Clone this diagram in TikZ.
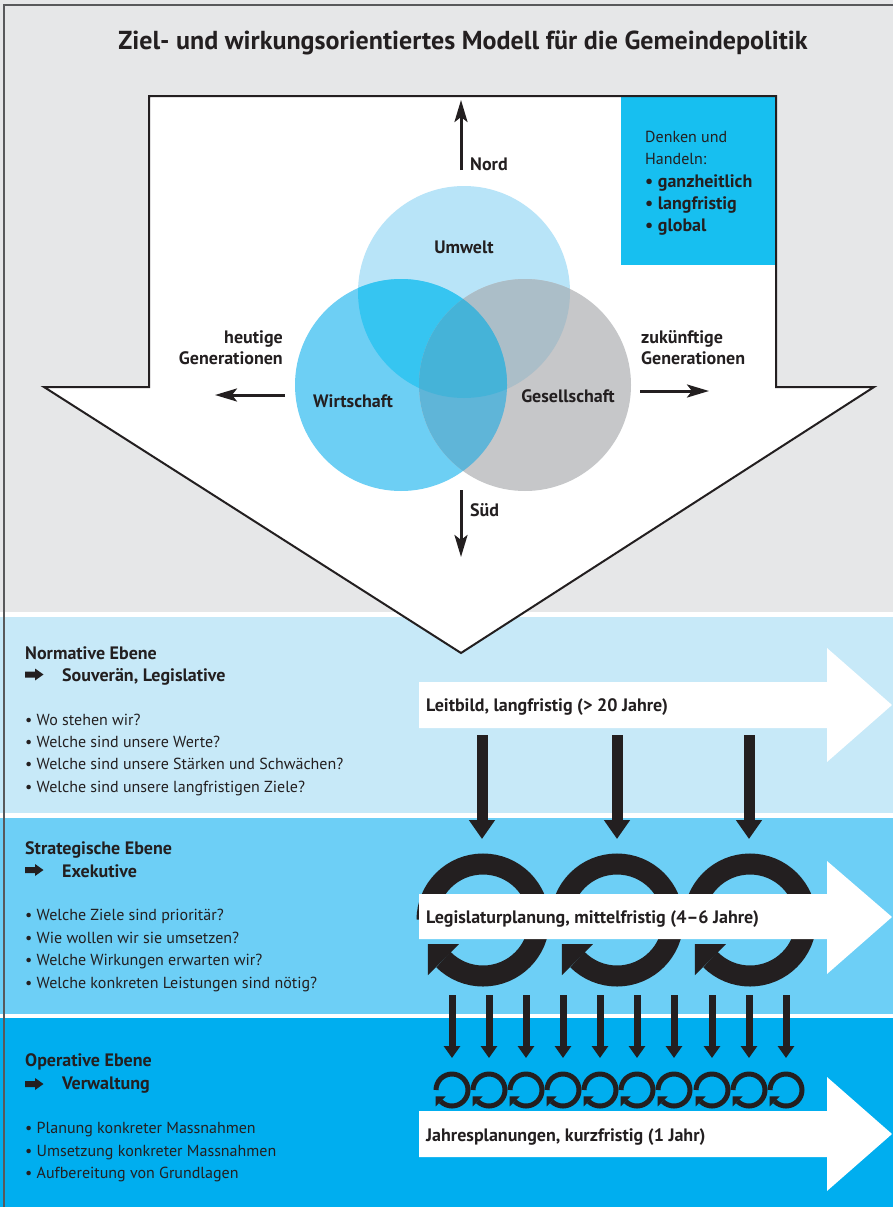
\documentclass[tikz,border=0pt]{standalone}
\usepackage{fontspec}
\setmainfont{PT Sans}
\usetikzlibrary{arrows.meta,calc}
\definecolor{txt}{HTML}{231F20}
\definecolor{bggray}{HTML}{E6E7E8}
\definecolor{framec}{HTML}{58595B}
\definecolor{bandA}{HTML}{C7E9F8}
\definecolor{bandB}{HTML}{6DCFF6}
\definecolor{bandC}{HTML}{00AEEF}
\definecolor{boxblue}{HTML}{17BFF0}
\definecolor{cU}{HTML}{B8E4F8}
\definecolor{cW}{HTML}{6DCFF4}
\definecolor{cG}{HTML}{C6C7C9}
\definecolor{cUW}{HTML}{36C5F1}
\definecolor{cUG}{HTML}{ABBEC8}
\definecolor{cWG}{HTML}{5FB5D8}
\definecolor{cUWG}{HTML}{45B3D8}
\begin{document}
\begin{tikzpicture}[x=1pt,y=-1pt,
  body/.style={anchor=base west, inner sep=0pt, text=txt, font=\fontsize{16}{19}\selectfont},
  bodyr/.style={anchor=base east, inner sep=0pt, text=txt, font=\bfseries\fontsize{18}{21}\selectfont},
  lbl/.style={anchor=base west, inner sep=0pt, text=txt, font=\bfseries\fontsize{18}{21}\selectfont},
  clbl/.style={anchor=base, inner sep=0pt, text=txt, font=\bfseries\fontsize{18}{21}\selectfont},
  compass/.style={draw=txt, line width=3pt, -{Stealth[length=22pt,width=13pt,inset=5pt]}},
  bigdown/.style={draw=txt, line width=11pt, -{Triangle[length=19pt,width=25pt]}},
  smalldown/.style={draw=txt, line width=7pt, -{Triangle[length=12pt,width=16pt]}},
  symarrow/.style={fill=txt},
  cyc/.pic={
    \draw[txt, line width=\pgfkeysvalueof{/tikz/cycw}] (180:\pgfkeysvalueof{/tikz/cycr}) arc[start angle=180, end angle=495, radius=\pgfkeysvalueof{/tikz/cycr}];
    \fill[txt] ($(135:\pgfkeysvalueof{/tikz/cycr})+(135:\pgfkeysvalueof{/tikz/cych})$) -- ($(135:\pgfkeysvalueof{/tikz/cycr})+(225:\pgfkeysvalueof{/tikz/cych})$) -- ($(135:\pgfkeysvalueof{/tikz/cycr})+(315:\pgfkeysvalueof{/tikz/cych})$) -- cycle;
  },
  cycw/.initial=21pt, cycr/.initial=56, cych/.initial=22
]
\useasboundingbox (0,0) rectangle (893,1207);
% backgrounds
\fill[bggray] (0,0) rectangle (893,1207);
\fill[white] (0,612) rectangle (893,1207);
\fill[bandA] (0,617) rectangle (893,813);
\fill[bandB] (0,818) rectangle (893,1014);
\fill[bandC] (0,1018) rectangle (893,1207);

% title
\node[anchor=base, inner sep=0pt, text=txt, font=\bfseries\fontsize{26}{30}\selectfont] (title) at (463,50) {Ziel- und wirkungsorientiertes Modell für die Gemeindepolitik};

% big arrow
\fill[white] (149,96) -- (776,96) -- (776,387) -- (874,387) -- (461,653) -- (44,387) -- (149,387) -- cycle;
\fill[boxblue] (621,96) rectangle (776,265);
\draw[txt, line width=2pt, line join=miter] (149,96) -- (776,96) -- (776,387) -- (874,387) -- (461,653) -- (44,387) -- (149,387) -- cycle;

% box text
\node[anchor=base west, inner sep=0pt, text=txt, font=\fontsize{16}{19}\selectfont] (dk1) at (645,142) {Denken und};
\node[anchor=base west, inner sep=0pt, text=txt, font=\fontsize{16}{19}\selectfont] (dk2) at (645,164) {Handeln:};
\node[lbl] (dk3) at (645,187) {• ganzheitlich};
\node[lbl] (dk4) at (645,209) {• langfristig};
\node[lbl] (dk5) at (645,231) {• global};

% circles
\coordinate (cu) at (464,292);
\coordinate (cw) at (401,385);
\coordinate (cg) at (525,385);
\fill[cU] (cu) circle[radius=106];
\fill[cW] (cw) circle[radius=106];
\fill[cG] (cg) circle[radius=106];
\begin{scope}\clip (cu) circle[radius=106]; \fill[cUW] (cw) circle[radius=106];\end{scope}
\begin{scope}\clip (cu) circle[radius=106]; \fill[cUG] (cg) circle[radius=106];\end{scope}
\begin{scope}\clip (cw) circle[radius=106]; \fill[cWG] (cg) circle[radius=106];\end{scope}
\begin{scope}\clip (cu) circle[radius=106]; \clip (cw) circle[radius=106]; \fill[cUWG] (cg) circle[radius=106];\end{scope}
\node[clbl] (umwelt) at (464,253) {Umwelt};
\node[clbl] (wirt) at (353,407) {Wirtschaft};
\node[clbl] (ges) at (568,402) {Gesellschaft};

% compass arrows
\coordinate (nA) at (461,170); \coordinate (nB) at (461,100);
\coordinate (sA) at (461,490); \coordinate (sB) at (461,557);
\coordinate (wA) at (285,395); \coordinate (wB) at (215,395);
\coordinate (eA) at (640,391); \coordinate (eB) at (709,391);
\draw[compass] (nA) -- (nB);
\draw[compass] (sA) -- (sB);
\draw[compass] (wA) -- (wB);
\draw[compass] (eA) -- (eB);
\node[lbl] (nord) at (470,170) {Nord};
\node[lbl] (sud) at (470,516) {Süd};
\node[bodyr] (heu1) at (283,343) {heutige};
\node[bodyr] (heu2) at (283,364) {Generationen};
\node[lbl] (zuk1) at (641,343) {zukünftige};
\node[lbl] (zuk2) at (641,364) {Generationen};

% big cycle arrows (band 2)
\foreach \cx/\nm in {483/ra,617/rb,750/rc}{
  \coordinate (\nm) at (\cx,920);
  \pic at (\nm) {cyc};
}
% band arrows
\fill[white] (419,682) -- (827,682) -- (827,648) -- (892,705) -- (827,762) -- (827,728) -- (419,728) -- cycle;
\fill[white] (419,894) -- (827,894) -- (827,861) -- (892,917) -- (827,974) -- (827,939) -- (419,939) -- cycle;
\fill[white] (419,1111) -- (827,1111) -- (827,1077) -- (892,1134) -- (827,1191) -- (827,1157) -- (419,1157) -- cycle;
\node[lbl] (lb1) at (426,711) {Leitbild, langfristig (> 20 Jahre)};
\node[lbl] (lb2) at (426,923) {Legislaturplanung, mittelfristig (4–6 Jahre)};
\node[lbl] (lb3) at (426,1141) {Jahresplanungen, kurzfristig (1 Jahr)};

% big down arrows
\foreach \cx/\nm in {482/da,617/db,749/dc}{
  \coordinate (\nm s) at (\cx,735);
  \coordinate (\nm e) at (\cx,839);
  \draw[bigdown] (\nm s) -- (\nm e);
}
% small down arrows and small cycles
\foreach \cx [count=\i] in {452,489,526,563,600,637,674,712,749,786}{
  \coordinate (ss\i) at (\cx,995);
  \coordinate (se\i) at (\cx,1058);
  \draw[smalldown] (ss\i) -- (se\i);
  \coordinate (sc\i) at (\cx,1090);
  \pic[cycw=5pt, cycr=16, cych=7] at (sc\i) {cyc};
}

% left texts band 1
\node[lbl] (n1) at (25,659) {Normative Ebene};
\fill[symarrow] (25,671.5) -- (35,671.5) -- (35,668.5) -- (43.5,674.5) -- (35,680.5) -- (35,677.5) -- (25,677.5) -- cycle;
\node[lbl] (n2) at (62,681) {Souverän, Legislative};
\node[body] (n3) at (25,725) {• Wo stehen wir?};
\node[body] (n4) at (25,747) {• Welche sind unsere Werte?};
\node[body] (n5) at (25,769) {• Welche sind unsere Stärken und Schwächen?};
\node[body] (n6) at (25,792) {• Welche sind unsere langfristigen Ziele?};
% band 2
\node[lbl] (s1) at (25,854) {Strategische Ebene};
\fill[symarrow] (25,867) -- (35,867) -- (35,864) -- (43.5,870) -- (35,876) -- (35,873) -- (25,873) -- cycle;
\node[lbl] (s2) at (62,877) {Exekutive};
\node[body] (s3) at (25,920) {• Welche Ziele sind prioritär?};
\node[body] (s4) at (25,943) {• Wie wollen wir sie umsetzen?};
\node[body] (s5) at (25,965) {• Welche Wirkungen erwarten wir?};
\node[body] (s6) at (25,988) {• Welche konkreten Leistungen sind nötig?};
% band 3
\node[lbl] (o1) at (25,1066) {Operative Ebene};
\fill[symarrow] (25,1081) -- (35,1081) -- (35,1078) -- (43.5,1084) -- (35,1090) -- (35,1087) -- (25,1087) -- cycle;
\node[lbl] (o2) at (62,1089) {Verwaltung};
\node[body] (o3) at (25,1133) {• Planung konkreter Massnahmen};
\node[body] (o4) at (25,1156) {• Umsetzung konkreter Massnahmen};
\node[body] (o5) at (25,1178) {• Aufbereitung von Grundlagen};

% frame
\draw[framec, line width=1.5pt] (4,5) rectangle (905,1220);
\end{tikzpicture}
\end{document}
